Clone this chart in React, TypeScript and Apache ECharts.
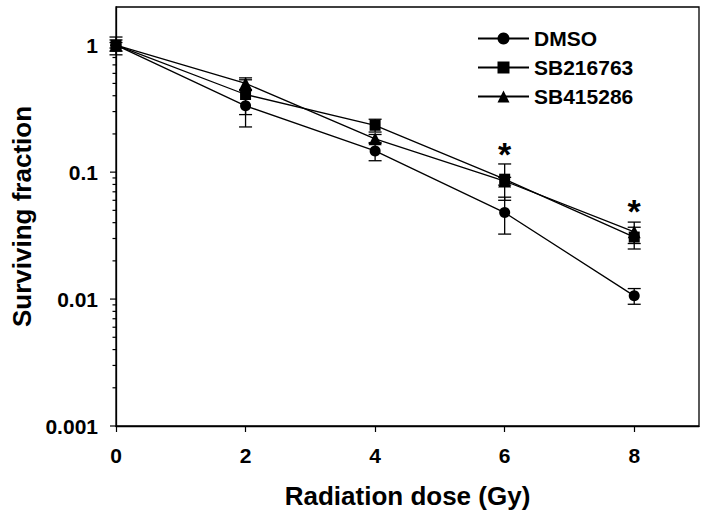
import React, { useEffect, useRef } from "react";
import * as echarts from "echarts";

const doses = [0, 2, 4, 6, 8];
const seriesNames = ["DMSO", "SB216763", "SB415286"];
const dmso = [1, 0.333, 0.147, 0.048, 0.0106];
const dmsoErr = [0.16, 0.106, 0.024, 0.0155, 0.0015];
const sb216 = [1, 0.409, 0.234, 0.088, 0.0308];
const sb216Err = [0.1, 0.125, 0.027, 0.028, 0.006];
const sb415 = [1, 0.5, 0.183, 0.085, 0.0339];
const sb415Err = [0.05, 0.053, 0.015, 0.006, 0.0065];
const symbols = ["circle", "rect", "triangle"];
const xTicks = [0, 2, 4, 6, 8];
const yMajorTicks = [0.001, 0.01, 0.1, 1];
const starPoints = [
  [6, 0.138],
  [8, 0.049],
];

const FONT = "'Liberation Sans', Arial, sans-serif";

function buildMinorTicks(): number[] {
  const out: number[] = [];
  for (const dec of [0.001, 0.01, 0.1, 1]) {
    for (let m = 2; m <= 9; m++) {
      const v = m * dec;
      if (v < 2) out.push(v);
    }
  }
  return out;
}

export default function App() {
  const ref = useRef<HTMLDivElement>(null);
  useEffect(() => {
    if (!ref.current) return;
    const chart = echarts.init(ref.current, undefined, { renderer: "svg" });
    const values = [dmso, sb216, sb415];
    const errs = [dmsoErr, sb216Err, sb415Err];
    const lineStyle = { color: "#000", width: 1.3 };

    const lineSeries = seriesNames.map((name, i) => ({
      name,
      type: "line",
      data: doses.map((d, j) => [d, values[i][j]]),
      symbol: symbols[i],
      symbolSize: i === 2 ? 13 : 11,
      itemStyle: { color: "#000" },
      lineStyle,
      z: 3,
    }));

    const errSeries = seriesNames.map((name, i) => ({
      name: name + "-err",
      type: "custom",
      data: doses.map((d, j) => [d, values[i][j] - errs[i][j], values[i][j] + errs[i][j]]),
      encode: { x: 0, y: [1, 2] },
      z: 2,
      renderItem: (params: any, api: any) => {
        const x = api.value(0);
        const lo = api.value(1);
        const hi = api.value(2);
        const p1 = api.coord([x, hi]);
        const p2 = api.coord([x, lo]);
        const w = 6.5;
        const st = { stroke: "#000", lineWidth: 1.3 };
        return {
          type: "group",
          children: [
            { type: "line", shape: { x1: p1[0], y1: p1[1], x2: p2[0], y2: p2[1] }, style: st },
            { type: "line", shape: { x1: p1[0] - w, y1: p1[1], x2: p1[0] + w, y2: p1[1] }, style: st },
            { type: "line", shape: { x1: p2[0] - w, y1: p2[1], x2: p2[0] + w, y2: p2[1] }, style: st },
          ],
        };
      },
    }));

    const tickData = [
      ...yMajorTicks.map((v) => [0, v, 1]),
      ...buildMinorTicks().map((v) => [0, v, 0]),
    ];
    const tickSeries = {
      name: "yticks",
      type: "custom",
      data: tickData,
      encode: { x: 0, y: 1 },
      clip: false,
      silent: true,
      renderItem: (params: any, api: any) => {
        const p = api.coord([api.value(0), api.value(1)]);
        const len = api.value(2) ? 6 : 3.5;
        return {
          type: "line",
          shape: { x1: p[0] - len, y1: p[1], x2: p[0], y2: p[1] },
          style: { stroke: "#000", lineWidth: 1.2 },
        };
      },
    };

    const starSeries = {
      name: "stars",
      type: "custom",
      data: starPoints,
      encode: { x: 0, y: 1 },
      silent: true,
      z: 4,
      renderItem: (params: any, api: any) => {
        const p = api.coord([api.value(0), api.value(1)]);
        return {
          type: "text",
          x: p[0],
          y: p[1],
          style: {
            text: "*",
            fontSize: 34,
            fontWeight: "bold",
            fontFamily: FONT,
            fill: "#000",
            align: "center",
            verticalAlign: "middle",
          },
        };
      },
    };

    chart.setOption({
      animation: false,
      grid: {
        left: 116,
        right: 7,
        top: 7,
        bottom: 93,
        show: true,
        borderColor: "#000",
        borderWidth: 1.3,
      },
      legend: {
        data: seriesNames,
        orient: "vertical",
        left: 472,
        top: 23,
        itemWidth: 51,
        itemHeight: 15,
        itemGap: 8,
        textStyle: { fontSize: 21, fontWeight: "bold", fontFamily: FONT, color: "#000" },
      },
      xAxis: {
        type: "value",
        min: 0,
        max: 9,
        interval: 1,
        name: "Radiation dose (Gy)",
        nameLocation: "middle",
        nameGap: 57,
        nameTextStyle: { fontSize: 26, fontWeight: "bold", fontFamily: FONT, color: "#000" },
        axisLine: { show: true, lineStyle: { color: "#000", width: 1.3 } },
        axisTick: { show: true, inside: false, length: 6, customValues: xTicks, lineStyle: { color: "#000", width: 1.2 } },
        axisLabel: {
          customValues: xTicks,
          margin: 19,
          fontSize: 21,
          fontWeight: "bold",
          fontFamily: FONT,
          color: "#000",
        },
        splitLine: { show: false },
      },
      yAxis: {
        type: "log",
        logBase: 10,
        min: 0.001,
        max: 2,
        name: "Surviving fraction",
        nameLocation: "middle",
        nameRotate: 90,
        nameGap: 75,
        nameTextStyle: { fontSize: 26, fontWeight: "bold", fontFamily: FONT, color: "#000" },
        axisLine: { show: true, lineStyle: { color: "#000", width: 1.3 } },
        axisTick: { show: false },
        axisLabel: {
          margin: 18,
          fontSize: 21,
          fontWeight: "bold",
          fontFamily: FONT,
          color: "#000",
          formatter: (v: number) => {
            const l = Math.log10(v);
            if (Math.abs(l - Math.round(l)) > 1e-6) return "";
            return String(parseFloat(Math.pow(10, Math.round(l)).toFixed(3)));
          },
        },
        splitLine: { show: false },
        minorTick: { show: false },
      },
      series: [...errSeries, ...lineSeries, tickSeries, starSeries],
    });
    return () => chart.dispose();
  }, []);
  return <div ref={ref} style={{ width: 706, height: 519, position: "absolute", left: 0, top: 0 }} />;
}
